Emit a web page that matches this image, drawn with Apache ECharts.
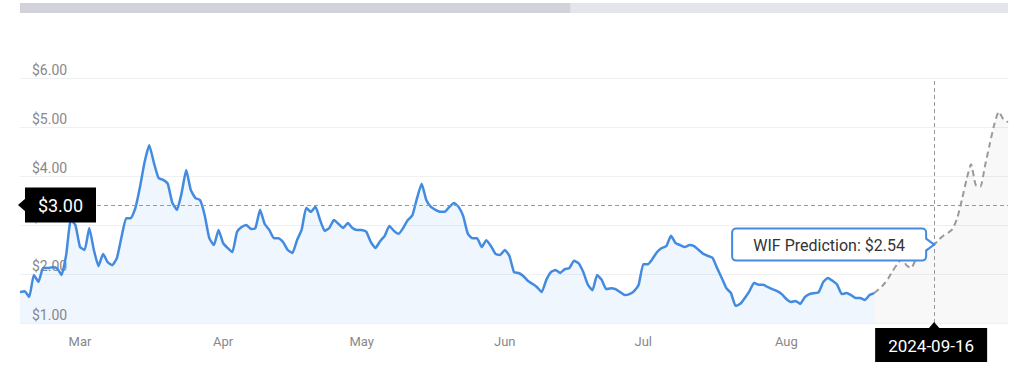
<!DOCTYPE html>
<html>
<head>
<meta charset="utf-8">
<script src="https://cdn.jsdelivr.net/npm/echarts/dist/echarts.min.js"></script>
<style>
  html, body { margin: 0; padding: 0; background: #ffffff; }
  #chart { width: 1024px; height: 374px; }
</style>
</head>
<body>
<div id="chart"></div>
<script>
// ---- data ----
const startDate = '2024-03-02';
const historyValues = [
  1.63,1.65,1.53,1.98,1.84,2.12,2.12,2.14,2.12,1.98,
  2.39,3.10,3.00,2.55,2.49,2.94,2.49,2.16,2.41,2.24,
  2.18,2.33,2.76,3.14,3.14,3.35,3.78,4.29,4.63,4.27,
  3.96,3.92,3.84,3.45,3.31,3.65,4.12,3.71,3.55,3.51,
  3.20,2.73,2.59,2.90,2.63,2.53,2.45,2.86,2.96,3.00,
  2.92,2.94,3.31,3.02,2.90,2.73,2.73,2.65,2.49,2.43,
  2.69,2.90,3.35,3.27,3.37,3.10,2.88,2.94,3.10,3.02,
  2.94,3.04,2.94,2.90,2.90,2.86,2.65,2.53,2.67,2.78,
  2.98,2.88,2.82,2.94,3.10,3.20,3.55,3.84,3.51,3.37,
  3.31,3.27,3.27,3.37,3.45,3.37,3.18,2.82,2.73,2.73,
  2.55,2.69,2.57,2.41,2.39,2.49,2.37,2.04,2.02,1.96,
  1.86,1.80,1.73,1.63,1.88,2.04,2.08,2.02,2.10,2.12,
  2.27,2.22,2.04,1.78,1.67,1.98,1.88,1.69,1.71,1.69,
  1.63,1.57,1.59,1.65,1.78,2.20,2.20,2.31,2.45,2.53,
  2.57,2.78,2.63,2.59,2.55,2.59,2.57,2.49,2.41,2.37,
  2.33,2.12,1.92,1.71,1.61,1.35,1.39,1.51,1.65,1.82,
  1.78,1.78,1.73,1.69,1.65,1.59,1.49,1.43,1.45,1.39,
  1.53,1.59,1.61,1.63,1.84,1.92,1.86,1.78,1.59,1.61,
  1.57,1.51,1.51,1.47,1.57,1.61
];
const predictionValues = [
  1.61,1.69,1.78,1.90,2.06,2.20,2.31,2.18,2.12,2.29,
  2.43,2.50,2.56,2.60,2.70,2.78,2.84,2.92,3.14,3.51,
  3.92,4.24,3.82,3.78,4.20,4.63,5.04,5.31,5.16,5.10
];
const monthTickLabels = ['Mar','Apr','May','Jun','Jul','Aug'];
const monthTickKeys   = ['03','04','05','06','07','08'];
const yTicks = [1, 2, 3, 4, 5, 6];
const pointerDate = '2024-09-16';
const pointerPrice = 3.41;
const pointerPriceLabel = '$3.00';
const predictionLabel = 'WIF Prediction: $2.54';
const scrollThumbFraction = 0.557;

// ---- build tables ----
const totalDays = historyValues.length + predictionValues.length - 1;
const dates = [];
{
  const d0 = new Date(startDate + 'T00:00:00Z');
  for (let i = 0; i < totalDays; i++) {
    const d = new Date(d0.getTime() + i * 86400000);
    dates.push(d.toISOString().slice(0, 10));
  }
}
const historyData = dates.map((_, i) => i < historyValues.length ? historyValues[i] : null);
const predOffset = historyValues.length - 1;
const predictionData = dates.map((_, i) => i >= predOffset ? predictionValues[i - predOffset] : null);

const FONT = 'Roboto, "Noto Sans", sans-serif';
const chart = echarts.init(document.getElementById('chart'), null, { renderer: 'svg' });

chart.setOption({
  animation: false,
  backgroundColor: '#ffffff',
  grid: { left: 20, right: 16, top: 78, bottom: 51, containLabel: false },
  xAxis: {
    type: 'category',
    data: dates,
    boundaryGap: false,
    axisLine: { show: false },
    axisTick: { show: false },
    splitLine: { show: false },
    axisLabel: {
      color: '#888888',
      fontFamily: FONT,
      fontSize: 13,
      margin: 12,
      interval: function (idx, val) {
        return val.slice(8) === '15' && monthTickKeys.indexOf(val.slice(5, 7)) >= 0;
      },
      formatter: function (val) {
        const k = monthTickKeys.indexOf(val.slice(5, 7));
        return k >= 0 ? monthTickLabels[k] : '';
      }
    }
  },
  yAxis: {
    type: 'value',
    min: yTicks[0],
    max: yTicks[yTicks.length - 1],
    interval: 1,
    axisLine: { show: false },
    axisTick: { show: false },
    splitLine: { lineStyle: { color: '#f0f0f0', width: 1 } },
    axisLabel: {
      inside: true,
      margin: 12,
      color: '#888888',
      fontFamily: FONT,
      fontSize: 14,
      verticalAlign: 'bottom',
      padding: [0, 0, 1, 0],
      formatter: function (v) { return '$' + v.toFixed(2); }
    }
  },
  series: [
    {
      name: 'Prediction',
      type: 'line',
      data: predictionData,
      showSymbol: false,
      symbol: 'none',
      smooth: 0.2,
      z: 2,
      lineStyle: { color: '#9a9a9a', width: 2, type: [6, 4] },
      areaStyle: { color: 'rgba(0,0,0,0.04)' },
      silent: true
    },
    {
      name: 'WIF',
      type: 'line',
      data: historyData,
      showSymbol: false,
      symbol: 'none',
      smooth: 0.15,
      z: 3,
      lineStyle: { color: '#428be0', width: 2.5 },
      areaStyle: { color: 'rgba(66,139,224,0.11)' },
      silent: true,
      markLine: {
        silent: true,
        symbol: 'none',
        label: { show: false },
        lineStyle: { color: '#9a9a9a', width: 1, type: [4, 3] },
        data: [{ yAxis: pointerPrice }, { xAxis: pointerDate }]
      }
    }
  ]
});

// ---- annotations positioned through the chart's own scales ----
const pIdx = dates.indexOf(pointerDate);
const tl = chart.convertToPixel({ xAxisIndex: 0, yAxisIndex: 0 }, [dates[0], yTicks[yTicks.length - 1]]);
const br = chart.convertToPixel({ xAxisIndex: 0, yAxisIndex: 0 }, [dates[dates.length - 1], yTicks[0]]);
const gx0 = tl[0], gy0 = tl[1], gx1 = br[0], gy1 = br[1];
const yPix = chart.convertToPixel({ yAxisIndex: 0 }, pointerPrice);
const xPix = chart.convertToPixel({ xAxisIndex: 0 }, pointerDate);
const predPt = chart.convertToPixel({ xAxisIndex: 0, yAxisIndex: 0 }, [pointerDate, predictionData[pIdx]]);

// price label (box with arrow on the left)
const priceTipX = gx0 - 2, priceBoxW = 71, priceBoxH = 35, priceGap = 7, priceAh = 7;
const pBx0 = priceTipX + priceGap;
// date label (box with arrow on top)
const dateTipY = gy1 - 1, dateBoxW = 112, dateBoxH = 34, dateGap = 6, dateAh = 6;
const dBy0 = dateTipY + dateGap;
// prediction tooltip (rounded box with arrow on the right)
const ttW = 194, ttH = 32, ttGap = 8, ttAh = 6;
const ttX1 = predPt[0] - ttGap, ttX0 = ttX1 - ttW, ttY0 = predPt[1] - ttH / 2;

chart.setOption({
  graphic: [
    { type: 'rect', silent: true, z: 100,
      shape: { x: gx0, y: 3, width: gx1 - gx0, height: 10 },
      style: { fill: '#e4e5eb' } },
    { type: 'rect', silent: true, z: 101,
      shape: { x: gx0, y: 3, width: (gx1 - gx0) * scrollThumbFraction, height: 10 },
      style: { fill: '#d2d3da' } },

    { type: 'rect', silent: true, z: 110,
      shape: { x: pBx0, y: yPix - priceBoxH / 2, width: priceBoxW, height: priceBoxH },
      style: { fill: '#000000' } },
    { type: 'polygon', silent: true, z: 110,
      shape: { points: [[pBx0 + 1, yPix - priceAh], [priceTipX, yPix], [pBx0 + 1, yPix + priceAh]] },
      style: { fill: '#000000' } },
    { type: 'text', silent: true, z: 111,
      x: pBx0 + priceBoxW / 2, y: yPix + 1,
      style: { text: pointerPriceLabel, fill: '#ffffff', font: '18px ' + FONT,
               align: 'center', verticalAlign: 'middle' } },

    { type: 'rect', silent: true, z: 110,
      shape: { x: xPix - dateBoxW / 2 - 3, y: dBy0, width: dateBoxW, height: dateBoxH },
      style: { fill: '#000000' } },
    { type: 'polygon', silent: true, z: 110,
      shape: { points: [[xPix - dateAh, dBy0 + 1], [xPix, dateTipY], [xPix + dateAh, dBy0 + 1]] },
      style: { fill: '#000000' } },
    { type: 'text', silent: true, z: 111,
      x: xPix - 3, y: dBy0 + dateBoxH / 2 + 1,
      style: { text: pointerDate, fill: '#ffffff', font: '17px ' + FONT,
               align: 'center', verticalAlign: 'middle' } },

    { type: 'rect', silent: true, z: 110,
      shape: { x: ttX0, y: ttY0, width: ttW, height: ttH, r: 4 },
      style: { fill: '#ffffff', stroke: '#428be0', lineWidth: 2 } },
    { type: 'polygon', silent: true, z: 111,
      shape: { points: [[ttX1 - 2, predPt[1] - ttAh], [predPt[0], predPt[1]], [ttX1 - 2, predPt[1] + ttAh]] },
      style: { fill: '#ffffff' } },
    { type: 'polyline', silent: true, z: 112,
      shape: { points: [[ttX1, predPt[1] - ttAh], [predPt[0], predPt[1]], [ttX1, predPt[1] + ttAh]] },
      style: { fill: null, stroke: '#428be0', lineWidth: 2 } },
    { type: 'text', silent: true, z: 113,
      x: ttX0 + ttW / 2, y: predPt[1] + 1,
      style: { text: predictionLabel, fill: '#333333', font: '16px ' + FONT,
               align: 'center', verticalAlign: 'middle' } }
  ]
});
</script>
</body>
</html>
